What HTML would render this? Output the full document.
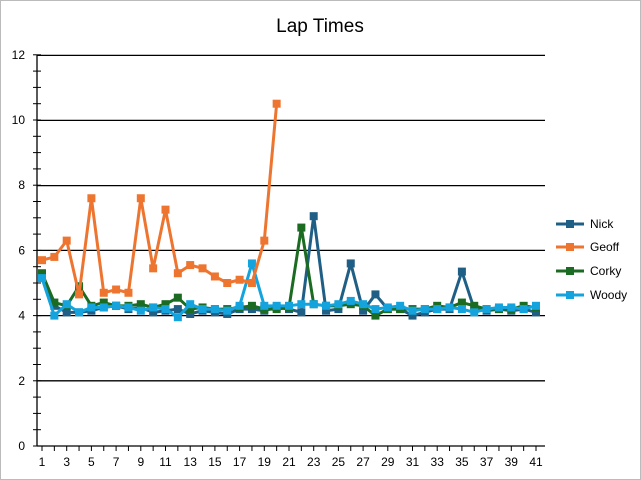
<!DOCTYPE html><html><head><style>body{margin:0;background:#fff}svg{display:block;font-family:"Liberation Sans",sans-serif}</style></head><body>
<svg width="641" height="480" viewBox="0 0 641 480">
<rect x="0.5" y="0.5" width="640" height="479" fill="#fff" stroke="#bbb"/>
<text x="320" y="32" font-size="19" text-anchor="middle">Lap Times</text>
<g stroke="#000" stroke-width="1.3">
<line x1="37" y1="55.4" x2="545" y2="55.4"/><line x1="37" y1="120.4" x2="545" y2="120.4"/><line x1="37" y1="185.6" x2="545" y2="185.6"/><line x1="37" y1="250.4" x2="545" y2="250.4"/><line x1="37" y1="315.6" x2="545" y2="315.6"/><line x1="37" y1="380.8" x2="545" y2="380.8"/><line x1="37" y1="446" x2="545" y2="446"/>
<line x1="37" y1="55" x2="37" y2="446"/>
</g>
<g id="ticks" stroke="#000" stroke-width="1"></g>
<g font-size="12" text-anchor="end" id="yl"></g>
<g font-size="12" text-anchor="middle" id="xl"></g>
<g id="series"></g>
<g font-size="12">
<line x1="556" y1="224" x2="584" y2="224" stroke="#1f5f86" stroke-width="3"/><rect x="566" y="220" width="8" height="8" fill="#1f5f86"/><text x="590" y="228">Nick</text>
<line x1="556" y1="247" x2="584" y2="247" stroke="#ed7530" stroke-width="3"/><rect x="566" y="243" width="8" height="8" fill="#ed7530"/><text x="590" y="251">Geoff</text>
<line x1="556" y1="271" x2="584" y2="271" stroke="#1c6b22" stroke-width="3"/><rect x="566" y="267" width="8" height="8" fill="#1c6b22"/><text x="590" y="275">Corky</text>
<line x1="556" y1="295" x2="584" y2="295" stroke="#14a3dc" stroke-width="3"/><rect x="566" y="291" width="8" height="8" fill="#14a3dc"/><text x="590" y="299">Woody</text>
</g>
<script>
var NS="http://www.w3.org/2000/svg";
function X(i){return 42+(i-1)*12.35}function Y(v){return 446-v*32.6}
function el(p,t,a,txt){var e=document.createElementNS(NS,t);for(var k in a)e.setAttribute(k,a[k]);if(txt!=null)e.textContent=txt;document.getElementById(p).appendChild(e)}
for(var v=0;v<=12;v+=0.5){var y=Y(v);el("ticks","line",{x1:33,x2:41,y1:y,y2:y});}
for(var v=0;v<=12;v+=2)el("yl","text",{x:25,y:Y(v)+4},v);
for(var i=1;i<=41;i++){el("ticks","line",{x1:X(i),x2:X(i),y1:446,y2:451});if(i%2)el("xl","text",{x:X(i),y:466},i);}
var S=[
["#1f5f86",[5.2,4.3,4.1,4.1,4.15,4.25,4.3,4.2,4.25,4.1,4.15,4.2,4.05,4.15,4.1,4.05,4.2,4.2,4.15,4.25,4.2,4.1,7.05,4.15,4.2,5.6,4.15,4.65,4.2,4.2,4.0,4.1,4.2,4.2,5.35,4.2,4.15,4.2,4.15,4.2,4.1]],
["#1c6b22",[5.3,4.4,4.3,4.9,4.3,4.4,4.3,4.3,4.35,4.25,4.35,4.55,4.2,4.25,4.2,4.2,4.25,4.3,4.2,4.2,4.25,6.7,4.35,4.3,4.3,4.35,4.3,4.0,4.2,4.2,4.2,4.2,4.3,4.25,4.4,4.3,4.2,4.2,4.2,4.3,4.25]],
["#14a3dc",[5.15,4.0,4.35,4.1,4.25,4.25,4.3,4.25,4.15,4.25,4.2,3.95,4.35,4.2,4.2,4.15,4.3,5.6,4.3,4.3,4.3,4.35,4.35,4.3,4.35,4.45,4.35,4.2,4.25,4.3,4.15,4.2,4.2,4.25,4.2,4.1,4.2,4.25,4.25,4.2,4.3]],
["#ed7530",[5.7,5.8,6.3,4.65,7.6,4.7,4.8,4.7,7.6,5.45,7.25,5.3,5.55,5.45,5.2,5.0,5.1,5.0,6.3,10.5]]];
S.forEach(function(s){var d=s[1].map(function(v,k){return X(k+1)+","+Y(v)}).join(" ");
el("series","polyline",{points:d,fill:"none",stroke:s[0],"stroke-width":3,"stroke-linejoin":"round"});
s[1].forEach(function(v,k){el("series","rect",{x:X(k+1)-4,y:Y(v)-4,width:8,height:8,fill:s[0]})});});
</script>
</svg></body></html>
